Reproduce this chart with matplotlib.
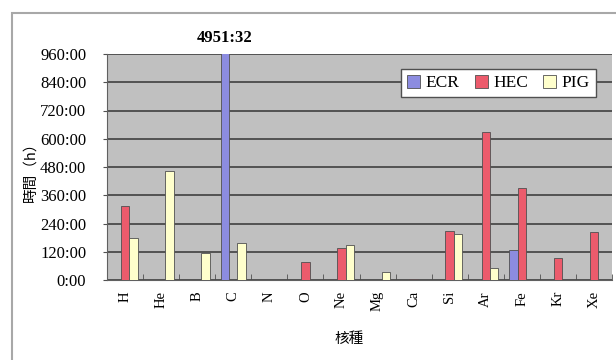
import matplotlib
matplotlib.use("Agg")
import matplotlib.pyplot as plt
import matplotlib.patches as mpatches
from matplotlib.ticker import FuncFormatter, FixedLocator
import numpy as np

nuclides = ['H', 'He', 'B', 'C', 'N', 'O', 'Ne', 'Mg', 'Ca', 'Si', 'Ar', 'Fe', 'Kr', 'Xe']
# hours per nuclide for each ion source
ecr = [0, 0, 0, 4951.533, 0, 0, 0, 0, 0, 0, 0, 127, 0, 0]
hec = [314, 0, 0, 0, 0, 78, 134, 0, 5, 208, 629, 389, 92, 205]
pig = [179, 465, 116, 156, 0, 0, 147, 35, 0, 195, 50, 0, 0, 0]
series = ['ECR', 'HEC', 'PIG']
colors = ['#8c8ce0', '#ec5b6c', '#ffffcc']
y_ticks = [0, 120, 240, 360, 480, 600, 720, 840, 960]

serif = 'Liberation Serif'
cjk = ['Noto Sans CJK TC', 'DejaVu Sans']


def hmm(v, pos=None):
    h = int(v)
    m = int(round((v - h) * 60))
    return f"{h}:{m:02d}"


W, H = 616, 360
fig = plt.figure(figsize=(W / 100, H / 100), dpi=100)
fig.patch.set_facecolor('white')

# chart border (runs off the right and bottom)
fig.patches.append(mpatches.Rectangle((12 / W, -0.1), 1.1, (H - 13) / H + 0.1,
                                      transform=fig.transFigure, fill=False,
                                      edgecolor='#a8a8a8', lw=1.5))

ax = fig.add_axes([107 / W, (H - 280) / H, 505 / W, 226 / H])
ax.set_facecolor('#c0c0c0')

x = np.arange(len(nuclides))
w = 0.235
for i, (vals, c, name) in enumerate(zip([ecr, hec, pig], colors, series)):
    ax.bar(x + (i - 1) * w, vals, w, color=c, edgecolor='#505050', lw=0.6,
           label=name, zorder=3)

ax.set_xlim(-0.5, len(nuclides) - 0.5)
ax.set_ylim(0, 960)
ax.set_yticks(y_ticks)
ax.yaxis.set_major_formatter(FuncFormatter(hmm))
ax.yaxis.grid(True, color='#4a4a4a', lw=1.3, zorder=1)
ax.set_axisbelow(True)

ax.set_xticks(x)
ax.set_xticklabels(nuclides, rotation=90, fontfamily=serif, fontsize=10.5)
ax.xaxis.set_minor_locator(FixedLocator(np.arange(-0.5, len(nuclides), 1)))
ax.tick_params(axis='x', which='major', length=0, pad=8)
ax.tick_params(axis='x', which='minor', length=4, direction='in', color='#505050')
ax.tick_params(axis='y', length=3, color='#505050', pad=12)
for lab in ax.get_yticklabels():
    lab.set_fontfamily(serif)
    lab.set_fontsize(12)

for s in ['top', 'right']:
    ax.spines[s].set_visible(False)
for s in ['left', 'bottom']:
    ax.spines[s].set_color('#606060')

# value of the clipped ECR bar on carbon
ax.annotate(hmm(ecr[3]), xy=(3 - w, 960), xytext=(0, 6), textcoords='offset points',
            ha='center', va='bottom', fontfamily=serif, fontsize=12, fontweight='bold',
            annotation_clip=False)

leg = ax.legend(loc='upper right', ncol=3, bbox_to_anchor=(0.975, 0.95),
                prop={'family': serif, 'size': 12.5}, frameon=True, fancybox=False,
                handlelength=0.75, handleheight=0.75, handletextpad=0.3,
                columnspacing=0.9, borderpad=0.35, borderaxespad=0.2)
leg.get_frame().set_edgecolor('#505050')
leg.get_frame().set_linewidth(1.0)
leg.get_frame().set_alpha(1)

fig.text(30 / W, 1 - 168 / H, '時間（h）', rotation=90, ha='center', va='center',
         family=cjk, fontsize=10.5)
fig.text(349 / W, 1 - 339 / H, '核種', ha='center', va='center',
         family=cjk, fontsize=10.5)

fig.savefig('out.png', dpi=100)
